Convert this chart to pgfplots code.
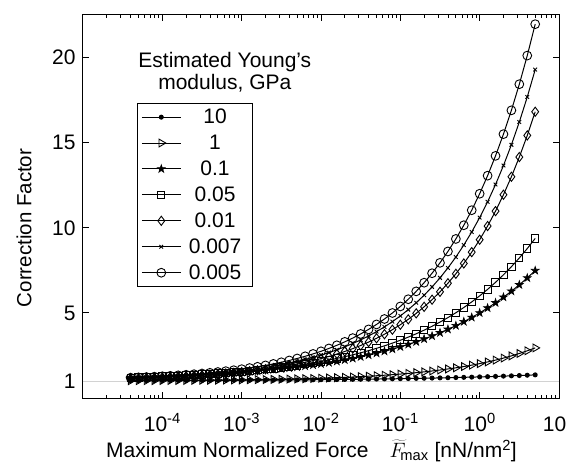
\documentclass[border=0pt]{standalone}
\usepackage{fontspec}
\setmainfont{Liberation Sans}
\usepackage{pgfplots}
\pgfplotsset{compat=1.18}
\usepackage{pgfplotstable}

\pgfdeclareplotmark{pentagram}{%
  \pgfpathmoveto{\pgfpointpolar{90}{\pgfplotmarksize}}%
  \pgfpathlineto{\pgfpointpolar{126}{0.382\pgfplotmarksize}}%
  \pgfpathlineto{\pgfpointpolar{162}{\pgfplotmarksize}}%
  \pgfpathlineto{\pgfpointpolar{198}{0.382\pgfplotmarksize}}%
  \pgfpathlineto{\pgfpointpolar{234}{\pgfplotmarksize}}%
  \pgfpathlineto{\pgfpointpolar{270}{0.382\pgfplotmarksize}}%
  \pgfpathlineto{\pgfpointpolar{306}{\pgfplotmarksize}}%
  \pgfpathlineto{\pgfpointpolar{342}{0.382\pgfplotmarksize}}%
  \pgfpathlineto{\pgfpointpolar{18}{\pgfplotmarksize}}%
  \pgfpathlineto{\pgfpointpolar{54}{0.382\pgfplotmarksize}}%
  \pgfpathclose\pgfusepathqfillstroke}

\pgfplotstableread{
F e10 e1 e01 e005 e001 e0007 e0005
3.981e-5 1.019 1.018 1.191 1.195 1.144 1.167 1.191
5.012e-5 1.020 1.019 1.205 1.210 1.158 1.183 1.210
6.310e-5 1.021 1.021 1.220 1.226 1.173 1.201 1.230
7.943e-5 1.023 1.023 1.236 1.244 1.190 1.220 1.252
1.000e-4 1.024 1.026 1.252 1.262 1.208 1.241 1.276
1.259e-4 1.025 1.028 1.270 1.282 1.229 1.264 1.303
1.585e-4 1.027 1.031 1.290 1.304 1.251 1.290 1.332
1.995e-4 1.029 1.034 1.311 1.327 1.275 1.318 1.364
2.512e-4 1.030 1.037 1.333 1.352 1.301 1.349 1.399
3.162e-4 1.032 1.041 1.357 1.379 1.330 1.382 1.438
3.981e-4 1.034 1.045 1.382 1.408 1.362 1.419 1.480
5.012e-4 1.036 1.049 1.409 1.439 1.397 1.459 1.527
6.310e-4 1.038 1.054 1.439 1.473 1.436 1.504 1.577
7.943e-4 1.040 1.059 1.470 1.509 1.478 1.552 1.633
1.000e-3 1.043 1.064 1.504 1.548 1.524 1.606 1.694
1.259e-3 1.045 1.071 1.540 1.590 1.574 1.664 1.761
1.585e-3 1.048 1.077 1.578 1.635 1.630 1.728 1.834
1.995e-3 1.051 1.085 1.620 1.684 1.690 1.798 1.915
2.512e-3 1.054 1.093 1.664 1.736 1.757 1.876 2.003
3.162e-3 1.057 1.102 1.711 1.792 1.830 1.960 2.100
3.981e-3 1.060 1.112 1.762 1.853 1.910 2.053 2.206
5.012e-3 1.064 1.123 1.817 1.918 1.998 2.154 2.323
6.310e-3 1.068 1.134 1.875 1.988 2.094 2.266 2.450
7.943e-3 1.072 1.147 1.938 2.064 2.200 2.388 2.590
1.000e-2 1.076 1.162 2.005 2.145 2.315 2.522 2.743
1.259e-2 1.080 1.177 2.077 2.233 2.442 2.668 2.912
1.585e-2 1.085 1.194 2.154 2.327 2.582 2.829 3.096
1.995e-2 1.090 1.213 2.236 2.429 2.734 3.006 3.298
2.512e-2 1.096 1.234 2.325 2.538 2.901 3.199 3.520
3.162e-2 1.101 1.256 2.419 2.656 3.085 3.411 3.763
3.981e-2 1.107 1.281 2.521 2.782 3.286 3.644 4.030
5.012e-2 1.114 1.308 2.630 2.918 3.507 3.899 4.322
6.310e-2 1.120 1.338 2.746 3.065 3.748 4.179 4.642
7.943e-2 1.127 1.370 2.871 3.223 4.014 4.486 4.994
0.1000 1.135 1.406 3.005 3.393 4.304 4.822 5.379
0.1259 1.143 1.445 3.148 3.576 4.623 5.191 5.802
0.1585 1.152 1.488 3.302 3.773 4.973 5.595 6.265
0.1995 1.160 1.535 3.466 3.985 5.356 6.038 6.773
0.2512 1.170 1.587 3.643 4.213 5.776 6.524 7.330
0.3162 1.180 1.644 3.832 4.459 6.237 7.057 7.941
0.3981 1.191 1.706 4.034 4.724 6.742 7.642 8.610
0.5012 1.202 1.774 4.251 5.008 7.296 8.282 9.344
0.6310 1.214 1.848 4.484 5.315 7.904 8.985 10.149
0.7943 1.227 1.930 4.733 5.645 8.570 9.755 11.032
1.000 1.240 2.020 5.000 6.000 9.300 10.600 12.000
1.259 1.254 2.118 5.286 6.382 10.101 11.526 13.062
1.585 1.269 2.226 5.593 6.794 10.979 12.542 14.225
1.995 1.285 2.345 5.921 7.237 11.942 13.656 15.501
2.512 1.302 2.474 6.273 7.714 12.997 14.876 16.899
3.162 1.320 2.617 6.650 8.227 14.155 16.215 18.434
3.981 1.339 2.773 7.054 8.780 15.424 17.683 20.116
5.012 1.359 2.944 7.487 9.375 16.816 19.293 21.961
}\data

\begin{document}
\begin{tikzpicture}[font=\fontsize{20}{24}\selectfont]
\begin{axis}[
  at={(83pt,66pt)}, anchor=south west,
  scale only axis, width=476pt, height=383pt,
  xmode=log, xmin=1e-5, xmax=10, ymin=0, ymax=22.5,
  xtick={1e-4,1e-3,1e-2,1e-1,1,10},
  xticklabels={10\textsuperscript{-4},10\textsuperscript{-3},10\textsuperscript{-2},10\textsuperscript{-1},10\textsuperscript{0},10\textsuperscript{1}},
  minor xtick={2e-5,3e-5,4e-5,5e-5,6e-5,7e-5,8e-5,9e-5,
    2e-4,3e-4,4e-4,5e-4,6e-4,7e-4,8e-4,9e-4,
    2e-3,3e-3,4e-3,5e-3,6e-3,7e-3,8e-3,9e-3,
    2e-2,3e-2,4e-2,5e-2,6e-2,7e-2,8e-2,9e-2,
    0.2,0.3,0.4,0.5,0.6,0.7,0.8,0.9,
    2,3,4,5,6,7,8,9},
  ytick={1,5,10,15,20},
  tick align=inside,
  xtick pos=both, ytick pos=both,
  xticklabel pos=lower, yticklabel pos=left,
  major tick length=6pt, minor tick length=3.5pt,
  every tick/.style={black, line width=0.8pt},
  axis line style={line width=1pt},
  /pgf/number format/assume math mode=true,
  tick label style={font=\fontsize{21}{25}\selectfont},
  yticklabel style={xshift=-4pt},
  xticklabel style={yshift=-12pt},
  xlabel={Maximum Normalized Force\quad$\widetilde{F}_{\!\mathrm{max}}$ [nN/nm\textsuperscript{2}]},
  xlabel style={at={(axis description cs:0.48,-0.156)}, anchor=base, font=\fontsize{21}{25}\selectfont},
  ylabel={Correction Factor},
  ylabel style={at={(axis description cs:-0.124,0.444)}, anchor=center, font=\fontsize{20.5}{24}\selectfont},
  legend cell align=center,
  legend style={at={(axis description cs:0.113,0.77)}, anchor=north west,
    draw=black, line width=1pt, font=\fontsize{21}{25}\selectfont,
    inner xsep=4pt, inner ysep=3pt, row sep=4.8pt, nodes={inner ysep=2.5pt, inner xsep=7.5pt}},
  legend image code/.code={\draw[mark repeat=2,mark phase=2,#1] plot coordinates {(0pt,0pt) (19.5pt,0pt) (39pt,0pt)};},
]
\addplot[gray!35, line width=0.8pt, forget plot] coordinates {(1e-5,1) (10,1)};
\addplot[black, line width=1pt, mark=*, mark size=2pt] table[x=F,y=e10]{\data};
\addplot[black, line width=1pt, mark=triangle, mark size=4.5pt, mark options={rotate=-90, line width=0.9pt}] table[x=F,y=e1]{\data};
\addplot[black, line width=1pt, mark=pentagram, mark size=4.2pt, mark options={fill=black, line width=0.6pt}] table[x=F,y=e01]{\data};
\addplot[black, line width=1pt, mark=square, mark size=3.6pt, mark options={line width=0.9pt}] table[x=F,y=e005]{\data};
\addplot[black, line width=1pt, mark=diamond, mark size=4.6pt, mark options={line width=0.9pt}] table[x=F,y=e001]{\data};
\addplot[black, line width=1pt, mark=x, mark size=2.6pt, mark options={line width=0.9pt}] table[x=F,y=e0007]{\data};
\addplot[black, line width=1pt, mark=o, mark size=4.4pt, mark options={line width=0.9pt}] table[x=F,y=e0005]{\data};
\legend{10,1,0.1,0.05,0.01,0.007,0.005}
\node[align=center, font=\fontsize{21}{22}\selectfont] at (axis description cs:0.298,0.851) {Estimated Young's\\modulus, GPa};
\end{axis}
\pgfresetboundingbox
\useasboundingbox (0,0) rectangle (567pt,464pt);
\end{tikzpicture}
\end{document}
